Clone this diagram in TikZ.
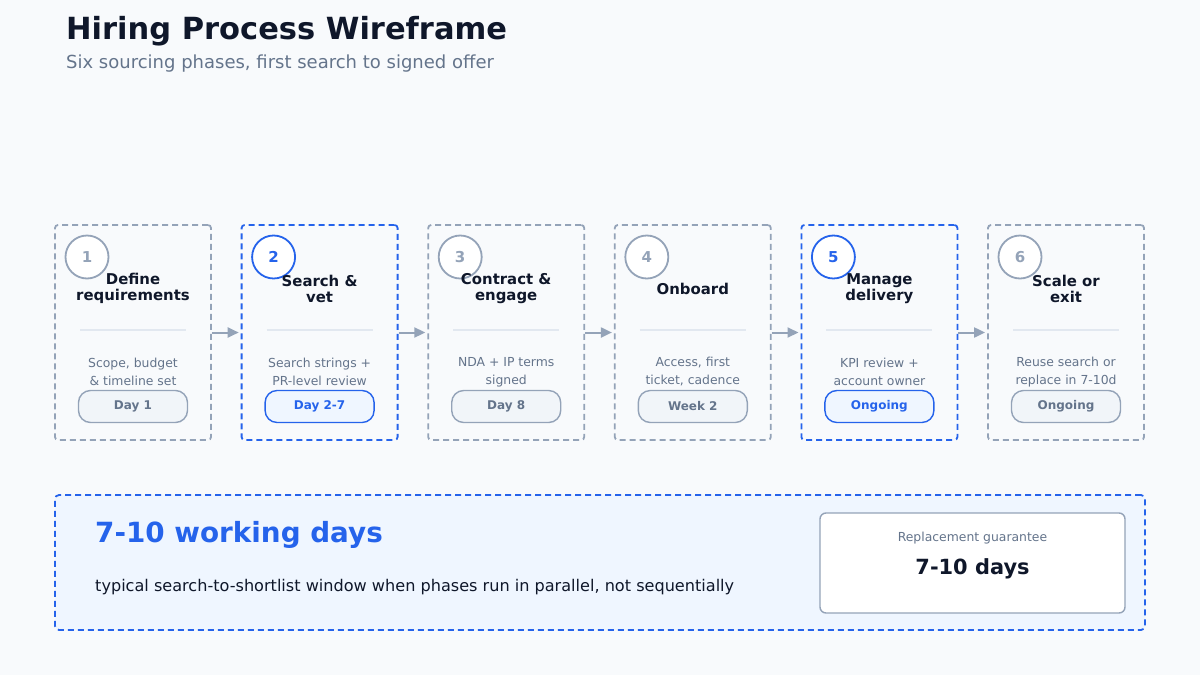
\documentclass[tikz,border=0pt]{standalone}
\usepackage{fontspec}
\setmainfont{DejaVu Sans}
\usetikzlibrary{positioning,arrows.meta}
\definecolor{pagebg}{HTML}{F8FAFC}
\definecolor{ink}{HTML}{0F172A}
\definecolor{muted}{HTML}{64748B}
\definecolor{rule}{HTML}{E2E8F0}
\definecolor{edgeg}{HTML}{94A3B8}
\definecolor{edgeb}{HTML}{2563EB}
\definecolor{fillg}{HTML}{F1F5F9}
\definecolor{fillb}{HTML}{EFF6FF}
\definecolor{txtg}{HTML}{64748B}
\definecolor{txtb}{HTML}{2563EB}
\definecolor{numg}{HTML}{94A3B8}
\definecolor{numb}{HTML}{2563EB}
\tikzset{
  phase/.style={draw=#1, line width=1.8pt, dash pattern=on 6pt off 4pt,
    rounded corners=3pt, minimum width=156pt, minimum height=215pt, fill=pagebg},
  badge/.style={circle, draw=#1, line width=1.8pt, fill=white, minimum size=43pt,
    inner sep=0pt, font=\fontsize{15}{15}\selectfont\bfseries},
  pill/.style={draw=#1, line width=1.4pt, rounded corners=12pt, minimum width=109pt,
    minimum height=32pt, inner sep=0pt, font=\fontsize{12}{12}\selectfont\bfseries},
  flow/.style={draw=edgeg, line width=2pt, -{Triangle[length=11pt,width=10pt]},
    shorten >=2pt},
}
\begin{document}
\begin{tikzpicture}[x=1pt,y=-1pt]
  \fill[pagebg] (0,0) rectangle (1200,675);
  \useasboundingbox (0,0) rectangle (1200,675);

  \node[anchor=west, text=ink, font=\fontsize{30.5}{34}\selectfont\bfseries, inner sep=0pt]
    (title) at (66,31) {Hiring Process Wireframe};
  \node[anchor=west, text=muted, font=\fontsize{18}{22}\selectfont, inner sep=0pt]
    (subtitle) at (66,63.5) {Six sourcing phases, first search to signed offer};

  \foreach \i/\ttl/\desc/\day/\tone in {
      1/{Define\\requirements}/{Scope, budget\\\& timeline set}/Day 1/g,
      2/{Search \&\\vet}/{Search strings +\\PR-level review}/Day 2-7/b,
      3/{Contract \&\\engage}/{NDA + IP terms\\signed}/Day 8/g,
      4/{Onboard}/{Access, first\\ticket, cadence}/Week 2/g,
      5/{Manage\\delivery}/{KPI review +\\account owner}/Ongoing/b,
      6/{Scale or\\exit}/{Reuse search or\\replace in 7-10d}/Ongoing/g}{
    \pgfmathsetmacro{\cx}{133+186.6*(\i-1)}
    \node[phase=edge\tone] (c\i) at (\cx,332.5) {};
    \node[badge=edge\tone, text=num\tone] (n\i) at (\cx-46,257) {\i};
    \node[align=center, text=ink, font=\fontsize{14.9}{16}\selectfont\bfseries]
      (t\i) at (\cx,288.5) {\ttl};
    \draw[rule, line width=1.2pt] (\cx-53,330) -- (\cx+53,330);
    \node[align=center, text=muted, font=\fontsize{12.4}{18}\selectfont]
      (d\i) at (\cx,372) {\desc};
    \node[pill=edge\tone, fill=fill\tone, text=txt\tone] (p\i) at (\cx,406.5) {\day};
  }

  \foreach \i [evaluate=\i as \j using int(\i+1)] in {1,...,5}
    \draw[flow] (c\i.east) -- (c\j.west);

  % summary band
  \node[draw=edgeb, fill=fillb, line width=1.8pt, dash pattern=on 6pt off 4pt,
    rounded corners=4pt, minimum width=1090pt, minimum height=135pt]
    (band) at (600,562.5) {};
  \node[anchor=west, text=edgeb, font=\fontsize{27.8}{30}\selectfont\bfseries, inner sep=0pt]
    (big) at (95,535) {7-10 working days};
  \node[anchor=west, text=ink, font=\fontsize{16.1}{19}\selectfont, inner sep=0pt]
    (note) at (95,587) {typical search-to-shortlist window when phases run in parallel, not sequentially};
  \node[draw=edgeg, fill=white, line width=1.4pt, rounded corners=6pt,
    minimum width=305pt, minimum height=100pt] (guar) at (972.5,563) {};
  \node[text=muted, font=\fontsize{12.4}{14}\selectfont] (glabel) at (972.5,538)
    {Replacement guarantee};
  \node[text=ink, font=\fontsize{20.9}{24}\selectfont\bfseries] (gvalue) at (972.5,569)
    {7-10 days};
\end{tikzpicture}
\end{document}
